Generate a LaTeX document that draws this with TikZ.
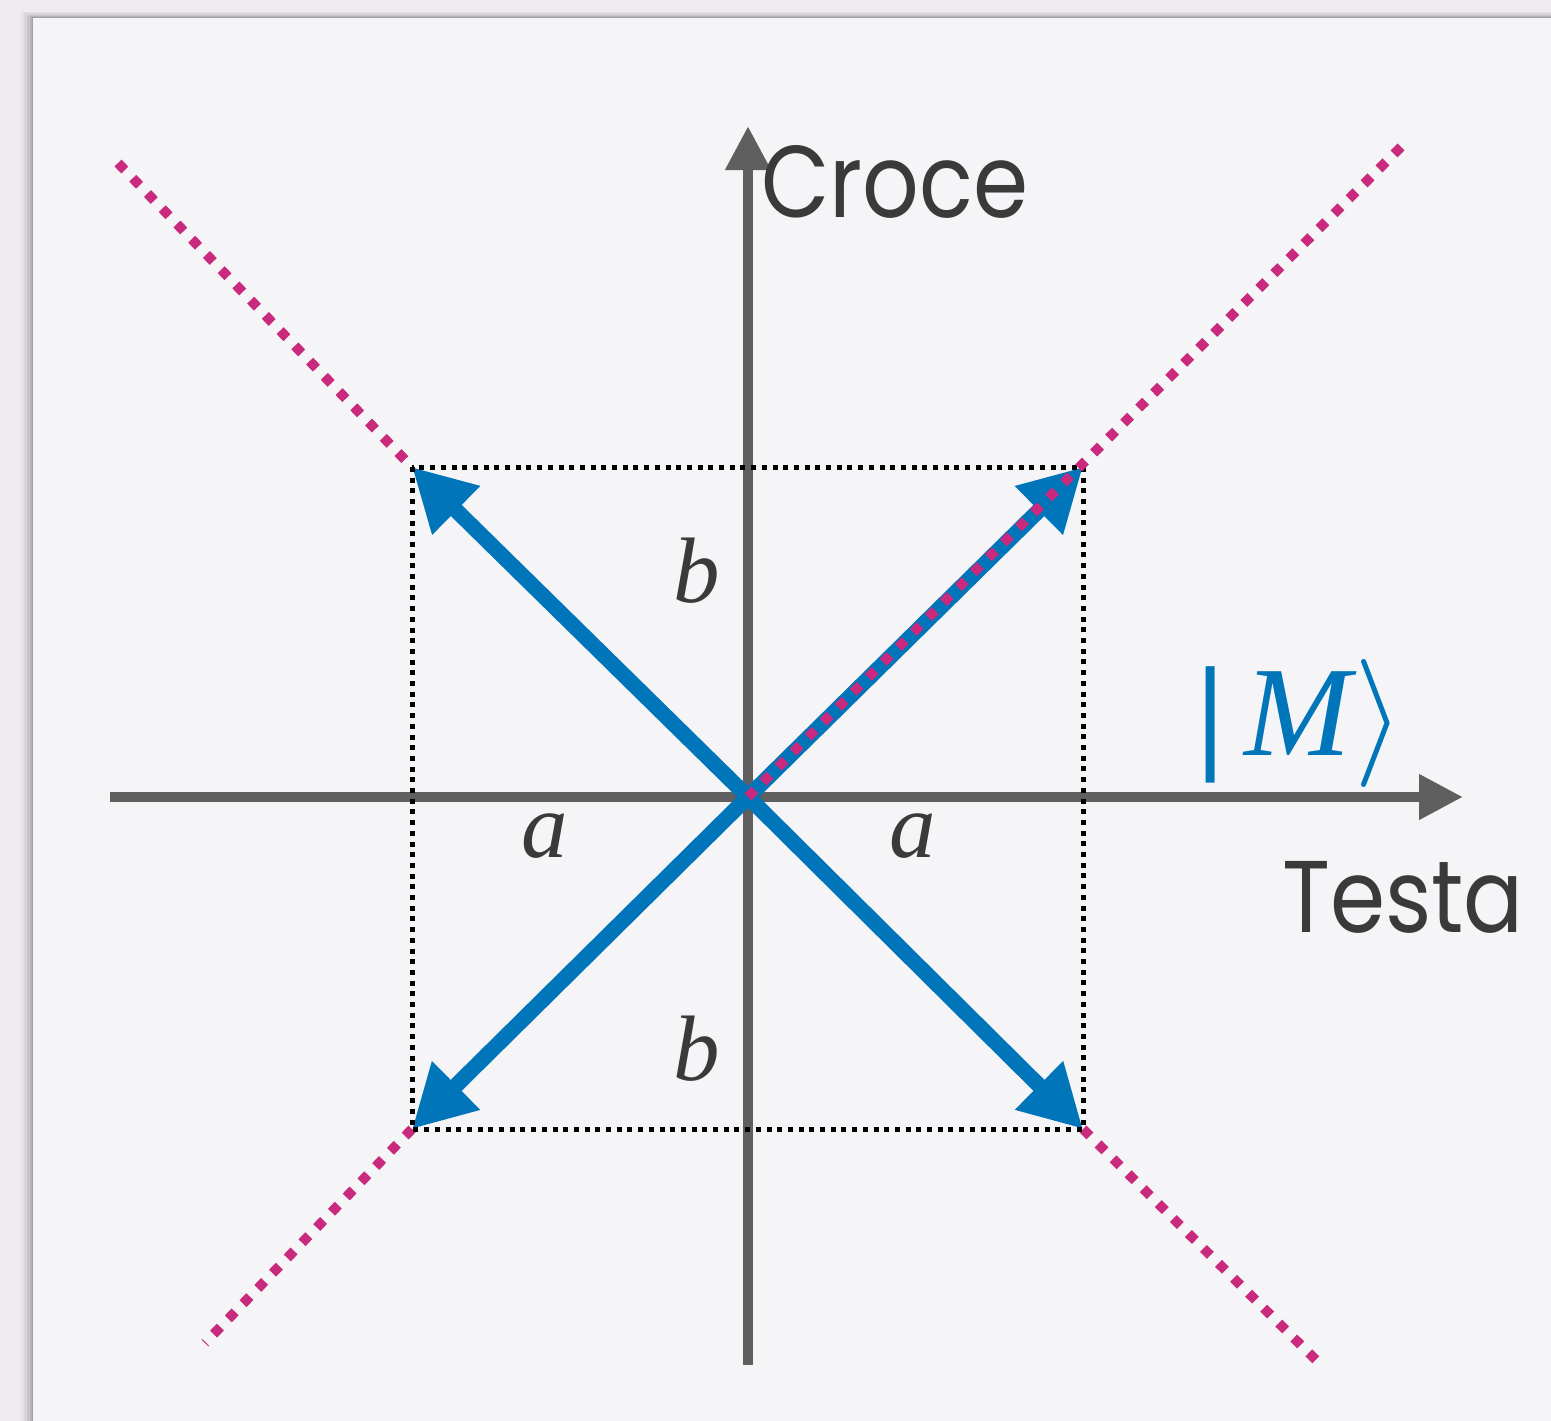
\RequirePackage{fix-cm}
\documentclass[tikz,border=0pt]{standalone}
\usepackage{fontspec}
\usetikzlibrary{arrows.meta}
\newfontfamily\gothic[FakeStretch=0.87]{Poppins}
\newfontfamily\libserif{Liberation Serif}
\definecolor{outerbg}{HTML}{EEEBEE}
\definecolor{cardbg}{HTML}{F5F4F7}
\definecolor{axisgray}{HTML}{5F5F5F}
\definecolor{txtgray}{HTML}{3A3A3A}
\definecolor{vecblue}{HTML}{0075B9}
\definecolor{magentadot}{HTML}{C92A7D}
\tikzset{
  axisline/.style={draw=axisgray, line width=10.5pt, -{Triangle[length=44pt,width=43pt]}},
  vecarrow/.style={draw=vecblue, line width=15.5pt, -{Triangle[length=62pt,width=64pt]}},
  magline/.style={draw=magentadot, line width=9.8pt, dash pattern=on 9.8pt off 11.4pt},
  boxline/.style={draw=black, line width=5pt, dash pattern=on 5pt off 5.7pt},
  axlabel/.style={text=txtgray, inner sep=0pt, font=\gothic\fontsize{102}{102}\selectfont},
  varlabel/.style={text=txtgray, inner sep=0pt, font=\libserif\itshape\fontsize{93}{93}\selectfont},
}
\begin{document}
\begin{tikzpicture}[x=1pt, y=-1pt]
\useasboundingbox (0,0) rectangle (1551,1421);
\fill[outerbg] (0,0) rectangle (1551,1421);
% card shadow
\foreach \d/\op in {12/0.04,9/0.05,6/0.07,3/0.09,1.5/0.1}{
  \fill[black, opacity=\op] (33-\d,18-\d*0.5) rectangle (1551,1421);
}
\fill[cardbg] (33,18) rectangle (1551,1421);

\coordinate (O) at (748,797);
\coordinate (TL) at (412,467);
\coordinate (TR) at (1083,467);
\coordinate (BL) at (412,1129);
\coordinate (BR) at (1083,1129);
\coordinate (mTL) at (118,163);
\coordinate (mTR) at (1405,143);
\coordinate (mBL) at (205,1343);
\coordinate (mBR) at (1318,1362);
\coordinate (xs) at (110,797);
\coordinate (xe) at (1463,797);
\coordinate (ys) at (748,1365);
\coordinate (ye) at (748,126);

% magenta dotted lines (under)
\draw[magline] (mTL) -- (TL);
\draw[magline] (BL) -- (mBL);
\draw[magline] (BR) -- (mBR);

% axes
\draw[axisline] (xs) -- (xe);
\draw[axisline] (ys) -- (ye);

% blue vectors
\draw[vecarrow] (O) -- (TL);
\draw[vecarrow] (O) -- (TR);
\draw[vecarrow] (O) -- (BL);
\draw[vecarrow] (O) -- (BR);

% dotted box
\draw[boxline] (TL) rectangle (BR);

% magenta over the |M> vector
\draw[magline] (O) -- (mTR);

% labels
\node[axlabel, anchor=base west] (croce) at (761,217) {Croce};
\node[axlabel, anchor=base west] (testa) at (1282,932) {Testa};
\node[varlabel, anchor=base] (b1) at (697,602) {b};
\node[varlabel, anchor=base] (b2) at (697,1080) {b};
\node[varlabel, anchor=base] (a1) at (545,857) {a};
\node[varlabel, anchor=base] (a2) at (913,857) {a};
\node[text=vecblue, inner sep=0pt, anchor=base west, font=\fontsize{128}{128}\selectfont] (M) at (1196,755)
  {{\libserif\bfseries|\hspace{0.16em}\mdseries\itshape M}\hspace{0.02em}$\rangle$};
\end{tikzpicture}
\end{document}
